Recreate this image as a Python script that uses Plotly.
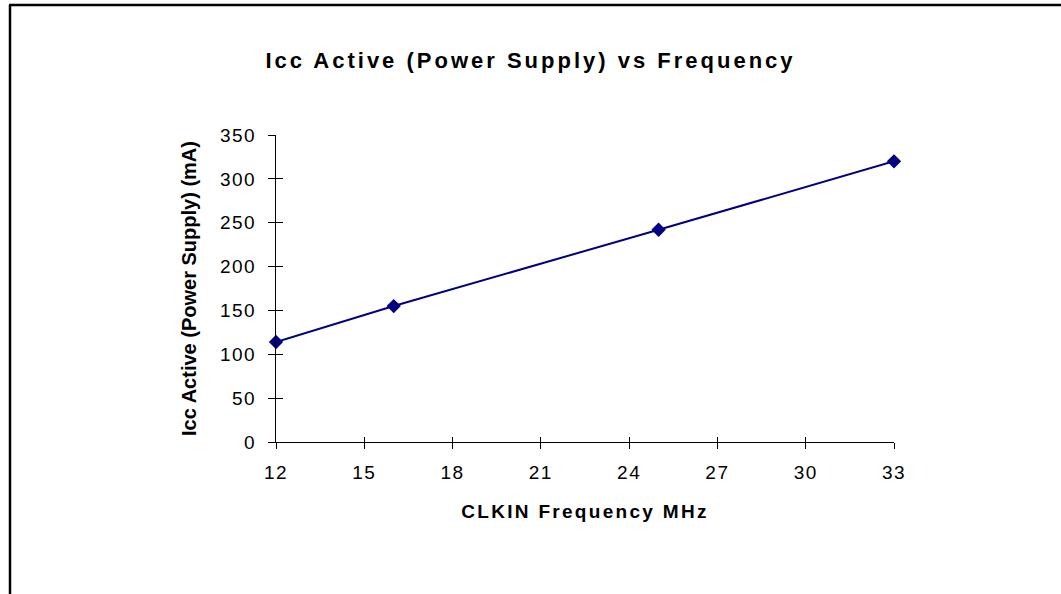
import plotly.graph_objects as go

freq_mhz = [12, 16, 25, 33]
icc_ma = [114, 155, 242, 320]
x_ticks = [12, 15, 18, 21, 24, 27, 30, 33]
y_ticks = [0, 50, 100, 150, 200, 250, 300, 350]

title_text = "Icc Active (Power Supply) vs Frequency"
x_title = "CLKIN Frequency MHz"
y_title = "Icc Active (Power Supply) (mA)"

W, H = 1061, 594
L, R, T, B = 276, 167, 135, 152
pw, ph = W - L - R, H - T - B

FONT = "Liberation Sans, Arial, Helvetica, sans-serif"

fig = go.Figure()
fig.add_trace(go.Scatter(
    x=freq_mhz, y=icc_ma, mode="lines+markers",
    line=dict(color="#000080", width=2),
    marker=dict(symbol="diamond", size=11, color="#000080"),
    cliponaxis=False, showlegend=False, hoverinfo="x+y",
))
# invisible trace hosting the overlay axes (gives crossing tick marks)
fig.add_trace(go.Scatter(x=[x_ticks[0]], y=[y_ticks[0]], xaxis="x2", yaxis="y2",
                         mode="markers", marker=dict(opacity=0), showlegend=False,
                         hoverinfo="skip"))

tickfont = dict(family=FONT, size=19, color="#000000")
axis_common = dict(showgrid=False, zeroline=False, showline=True, linecolor="#000000",
                   linewidth=1, tickcolor="#000000", tickwidth=1)

def px_to_paper_x(px):
    return (px - L) / pw

def px_to_paper_y(py):
    return (H - B - py) / ph

fig.update_layout(
    width=W, height=H,
    margin=dict(l=L, r=R, t=T, b=B),
    paper_bgcolor="white", plot_bgcolor="white",
    title=dict(text="<b>" + title_text + "</b>", x=0.5, xanchor="center",
               y=1 - 60 / H, yanchor="middle",
               font=dict(family=FONT, size=22, color="#000000")),
    xaxis=dict(range=[12, 33], tickmode="array", tickvals=x_ticks,
               ticks="outside", ticklen=6, tickfont=tickfont, ticklabelstandoff=7,
               title=dict(text="<b>" + x_title + "</b>", standoff=22,
                          font=dict(family=FONT, size=19, color="#000000")),
               **axis_common),
    yaxis=dict(range=[0, 350], tickmode="array", tickvals=y_ticks,
               ticks="outside", ticklen=7, tickfont=tickfont, ticklabelstandoff=8,
               title=dict(text="<b>" + y_title + "</b>", standoff=22,
                          font=dict(family=FONT, size=20, color="#000000")),
               **axis_common),
    xaxis2=dict(range=[12, 33], overlaying="x", anchor="y2", side="bottom",
                tickmode="array", tickvals=x_ticks, ticks="inside", ticklen=5,
                showticklabels=False, showgrid=False, zeroline=False, showline=False,
                tickcolor="#000000", tickwidth=1),
    yaxis2=dict(range=[0, 350], overlaying="y", anchor="x2", side="left",
                tickmode="array", tickvals=y_ticks, ticks="inside", ticklen=7,
                showticklabels=False, showgrid=False, zeroline=False, showline=False,
                tickcolor="#000000", tickwidth=1),
    shapes=[
        dict(type="line", xref="paper", yref="paper",
             x0=px_to_paper_x(10), x1=px_to_paper_x(10),
             y0=px_to_paper_y(H + 20), y1=px_to_paper_y(5),
             line=dict(color="#000000", width=2.5)),
        dict(type="line", xref="paper", yref="paper",
             x0=px_to_paper_x(9), x1=px_to_paper_x(W + 20),
             y0=px_to_paper_y(5), y1=px_to_paper_y(5),
             line=dict(color="#000000", width=2.5)),
    ],
)

post = """
document.body.style.margin='0';
document.body.style.overflow='hidden';
var gd=document.getElementById('{plot_id}');
function fixText(){
  gd.querySelectorAll('.gtitle').forEach(function(e){e.style.letterSpacing='3px';});
  gd.querySelectorAll('.xtitle').forEach(function(e){e.style.letterSpacing='2.3px';});
  gd.querySelectorAll('g.xtick text, g.ytick text').forEach(function(e){e.style.letterSpacing='1.5px';});
}
fixText();
if(gd.on){gd.on('plotly_afterplot', fixText);}
"""

fig.write_html("out.html", post_script=post, config={"displayModeBar": False})
